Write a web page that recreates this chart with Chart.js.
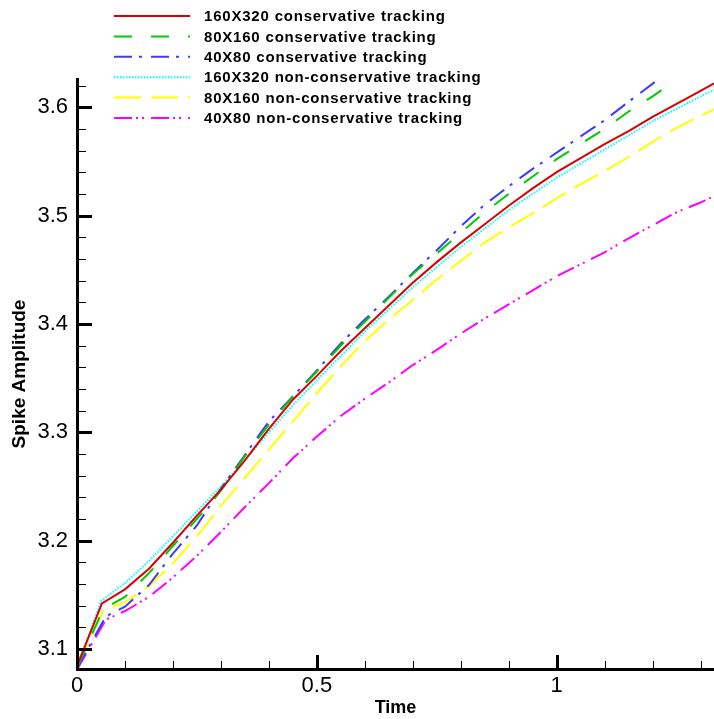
<!DOCTYPE html>
<html>
<head>
<meta charset="utf-8">
<script src="https://cdn.jsdelivr.net/npm/chart.js@4.4.1/dist/chart.umd.min.js"></script>
<style>
  html, body { margin: 0; padding: 0; background: #fff; }
  #wrap { width: 714px; height: 719px; position: relative; }
</style>
</head>
<body>
<div id="wrap"><canvas id="myChart"></canvas></div>
<script>
// series data (time, spike amplitude)
const labels = [
  "160X320 conservative tracking",
  "80X160 conservative tracking",
  "40X80 conservative tracking",
  "160X320 non-conservative tracking",
  "80X160 non-conservative tracking",
  "40X80 non-conservative tracking"
];

const tRed = [0, 0.052, 0.1, 0.15, 0.2, 0.25, 0.3, 0.35, 0.4, 0.45, 0.5, 0.55, 0.6, 0.65, 0.7, 0.75, 0.8, 0.85, 0.9, 0.95, 1.0, 1.05, 1.1, 1.15, 1.2, 1.25, 1.3, 1.328];
const vRed = [3.084, 3.142, 3.155, 3.174, 3.198, 3.223, 3.247, 3.274, 3.303, 3.330, 3.352, 3.375, 3.396, 3.417, 3.438, 3.457, 3.475, 3.492, 3.509, 3.525, 3.540, 3.553, 3.566, 3.578, 3.591, 3.603, 3.615, 3.622];

const tGreen = [0, 0.055, 0.1, 0.15, 0.2, 0.25, 0.3, 0.35, 0.4, 0.45, 0.5, 0.55, 0.6, 0.65, 0.7, 0.75, 0.8, 0.85, 0.9, 0.95, 1.0, 1.05, 1.1, 1.15, 1.2, 1.226];
const vGreen = [3.083, 3.137, 3.148, 3.170, 3.195, 3.220, 3.246, 3.278, 3.307, 3.333, 3.356, 3.380, 3.402, 3.424, 3.446, 3.465, 3.484, 3.503, 3.520, 3.536, 3.552, 3.566, 3.580, 3.596, 3.610, 3.618];

const tBlue = [0, 0.06, 0.1, 0.15, 0.2, 0.25, 0.3, 0.35, 0.4, 0.45, 0.5, 0.55, 0.6, 0.65, 0.7, 0.75, 0.8, 0.85, 0.9, 0.95, 1.0, 1.05, 1.1, 1.15, 1.213];
const vBlue = [3.082, 3.130, 3.139, 3.159, 3.188, 3.214, 3.248, 3.279, 3.310, 3.333, 3.357, 3.382, 3.404, 3.425, 3.447, 3.468, 3.490, 3.510, 3.527, 3.543, 3.558, 3.573, 3.588, 3.605, 3.626];

const tCyan = [0, 0.05, 0.1, 0.15, 0.2, 0.25, 0.3, 0.35, 0.4, 0.45, 0.5, 0.6, 0.7, 0.8, 0.9, 1.0, 1.1, 1.2, 1.3, 1.328];
const vCyan = [3.084, 3.144, 3.161, 3.181, 3.204, 3.227, 3.250, 3.274, 3.300, 3.325, 3.348, 3.393, 3.434, 3.471, 3.505, 3.535, 3.561, 3.587, 3.610, 3.616];

const tYellow = [0, 0.055, 0.1, 0.15, 0.2, 0.25, 0.3, 0.35, 0.4, 0.45, 0.5, 0.55, 0.6, 0.65, 0.7, 0.75, 0.8, 0.85, 0.9, 0.95, 1.0, 1.05, 1.1, 1.15, 1.2, 1.25, 1.3, 1.328];
const vYellow = [3.082, 3.136, 3.143, 3.158, 3.179, 3.204, 3.232, 3.258, 3.284, 3.310, 3.336, 3.361, 3.384, 3.404, 3.422, 3.441, 3.458, 3.475, 3.489, 3.502, 3.516, 3.529, 3.541, 3.554, 3.568, 3.581, 3.592, 3.598];

const tMagenta = [0, 0.06, 0.1, 0.15, 0.2, 0.25, 0.3, 0.35, 0.4, 0.45, 0.5, 0.55, 0.6, 0.65, 0.7, 0.75, 0.8, 0.85, 0.9, 0.95, 1.0, 1.05, 1.1, 1.15, 1.2, 1.25, 1.3, 1.328];
const vMagenta = [3.081, 3.127, 3.135, 3.148, 3.166, 3.186, 3.208, 3.231, 3.253, 3.276, 3.296, 3.315, 3.331, 3.346, 3.362, 3.376, 3.391, 3.405, 3.418, 3.431, 3.444, 3.455, 3.466, 3.479, 3.491, 3.503, 3.512, 3.518];

function pts(ts, vs) {
  return ts.map((t, i) => ({ x: t, y: vs[i] }));
}

// plain tick text: 0, 0.5, 1 and 3.1 ... 3.6
function tickText(value) {
  return String(Math.round(value * 100) / 100);
}

const FONT = "'Liberation Sans', Arial, sans-serif";

// legend drawn stacked at the top left, like the original
const stackedLegend = {
  id: "stackedLegend",
  afterDraw(chart) {
    const ctx = chart.ctx;
    ctx.save();
    chart.data.datasets.forEach((ds, i) => {
      const y = 16 + i * 20.4;
      ctx.beginPath();
      ctx.setLineDash(ds.borderDash || []);
      ctx.strokeStyle = ds.borderColor;
      ctx.lineWidth = 2;
      ctx.moveTo(114, y);
      ctx.lineTo(190, y);
      ctx.stroke();
      ctx.setLineDash([]);
      ctx.fillStyle = "#000";
      ctx.font = "bold 15px " + FONT;
      ctx.letterSpacing = "0.8px";
      ctx.textBaseline = "middle";
      ctx.fillText(ds.label, 204, y + 1);
    });
    ctx.restore();
  }
};

// inward major/minor tick marks
const inwardTicks = {
  id: "inwardTicks",
  afterDraw(chart) {
    const { ctx, chartArea, scales } = chart;
    const xs = scales.x, ys = scales.y;
    ctx.save();
    ctx.strokeStyle = "#000";
    for (let i = 0; i <= 13; i++) {
      const major = i % 5 === 0;
      const px = Math.round(xs.getPixelForValue(i / 10)) + 0.5;
      ctx.lineWidth = major ? 3 : 1;
      ctx.beginPath();
      ctx.moveTo(px, chartArea.bottom);
      ctx.lineTo(px, chartArea.bottom - (major ? 14 : 8));
      ctx.stroke();
    }
    for (let i = 1; i <= 27; i++) {
      const v = Math.round((3.08 + i * 0.02) * 100) / 100;
      const major = (i - 1) % 5 === 0;
      const py = Math.round(ys.getPixelForValue(v)) + 0.5;
      if (py < chartArea.top) continue;
      ctx.lineWidth = major ? 3 : 1;
      ctx.beginPath();
      ctx.moveTo(chartArea.left, py);
      ctx.lineTo(chartArea.left + (major ? 15 : 9), py);
      ctx.stroke();
    }
    ctx.restore();
  }
};

const myChart = new Chart("myChart", {
  type: "line",
  data: {
    datasets: [
      { label: labels[0], data: pts(tRed, vRed), borderColor: "#dd0000", borderWidth: 2 },
      { label: labels[1], data: pts(tGreen, vGreen), borderColor: "#00cc00", borderWidth: 2, borderDash: [18, 19] },
      { label: labels[2], data: pts(tBlue, vBlue), borderColor: "#3c3cff", borderWidth: 2, borderDash: [18, 7, 3, 9] },
      { label: labels[3], data: pts(tCyan, vCyan), borderColor: "#00ffff", borderWidth: 2, borderDash: [1.5, 1.5] },
      { label: labels[4], data: pts(tYellow, vYellow), borderColor: "#ffff00", borderWidth: 2, borderDash: [27, 10] },
      { label: labels[5], data: pts(tMagenta, vMagenta), borderColor: "#ff00ff", borderWidth: 2, borderDash: [18, 4, 2, 4, 2, 7] }
    ]
  },
  options: {
    responsive: true,
    maintainAspectRatio: false,
    animation: false,
    devicePixelRatio: 1,
    elements: { point: { radius: 0 }, line: { tension: 0, fill: false } },
    layout: { padding: { top: 79, right: 0, bottom: 0, left: 0 } },
    plugins: { legend: { display: false }, tooltip: { enabled: false } },
    scales: {
      x: {
        type: "linear",
        min: 0,
        max: 1.328,
        grid: { display: false, drawTicks: false },
        border: { display: true, color: "#000", width: 3 },
        ticks: { stepSize: 0.5, includeBounds: false, color: "#000", padding: 4, maxRotation: 0, callback: tickText, font: { family: FONT, size: 22 } },
        title: { display: true, text: "Time", color: "#000", padding: { top: 0, bottom: 0 }, font: { family: FONT, size: 18, weight: "bold" } },
        afterFit(scale) { scale.height = 50; scale.paddingLeft = 0; scale.paddingRight = 0; }
      },
      y: {
        type: "linear",
        min: 3.0815,
        max: 3.626,
        grid: { display: false, drawTicks: false },
        border: { display: true, color: "#000", width: 3 },
        ticks: { stepSize: 0.1, includeBounds: false, color: "#000", padding: 9, callback: tickText, font: { family: FONT, size: 22 } },
        title: { display: true, text: "Spike Amplitude", color: "#000", padding: { top: 8, bottom: 0 }, font: { family: FONT, size: 19, weight: "bold" } },
        afterFit(scale) { scale.width = 77; scale.paddingTop = 0; scale.paddingBottom = 0; }
      }
    }
  },
  plugins: [stackedLegend, inwardTicks]
});
</script>
</body>
</html>
